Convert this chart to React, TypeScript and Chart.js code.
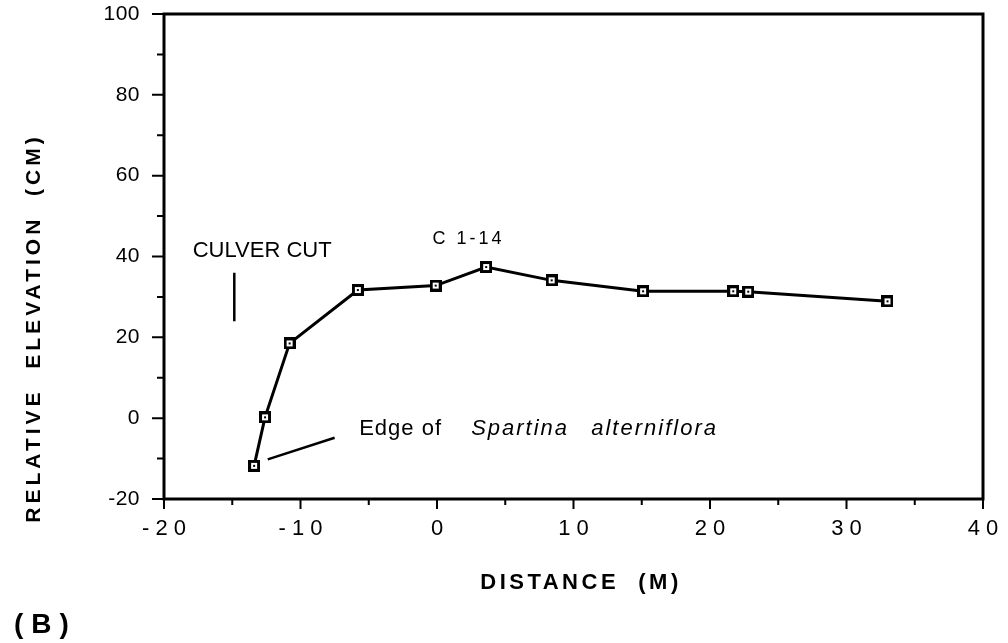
import React, { useEffect, useRef } from 'react';
import { Chart, registerables } from 'chart.js';

Chart.register(...registerables);

// ---- Data ----
const distance = [-13.4, -12.6, -10.8, -5.8, -0.1, 3.6, 8.4, 15.1, 21.7, 22.8, 33.0];
const elevation = [-11.8, 0.2, 18.5, 31.7, 32.8, 37.4, 34.1, 31.4, 31.4, 31.3, 28.9];

const xTickValues = [-20, -10, 0, 10, 20, 30, 40];
const yTickValues = [-20, 0, 20, 40, 60, 80, 100];
const xMinorTicks = [-15, -5, 5, 15, 25, 35];
const yMinorTicks = [-10, 10, 30, 50, 70, 90];

const xTitle = 'DISTANCE  (M)';
const yTitle = 'RELATIVE  ELEVATION  (CM)';
const panelLabel = '(B)';
const culverLabel = 'CULVER CUT';
const coreLabel = 'C 1-14';
const edgeLabel = ['Edge of', 'Spartina', 'alterniflora'];

// annotation anchors in data units
const culverText = { x: -17.9, y: 41.3 };
const culverLine = [{ x: -14.85, y: 36 }, { x: -14.85, y: 24 }];
const coreText = { x: 2.3, y: 44.2 };
const edgeTextX = [-5.7, 2.5, 11.3];
const edgeTextY = -2.6;
const edgeLine = [{ x: -12.4, y: -10.2 }, { x: -7.5, y: -4.85 }];

const FONT = '"Liberation Sans", Arial, Helvetica, sans-serif';

function makeMarker(): HTMLCanvasElement {
  const c = document.createElement('canvas');
  c.width = 12;
  c.height = 12;
  const g = c.getContext('2d')!;
  g.fillStyle = '#000';
  g.fillRect(0, 0, 12, 12);
  g.fillStyle = '#fff';
  g.fillRect(3, 3, 6, 6);
  g.fillStyle = '#000';
  g.fillRect(5, 5, 2, 2);
  return c;
}

function drawText(
  ctx: CanvasRenderingContext2D,
  text: string,
  x: number,
  y: number,
  font: string,
  ls: number,
  align: CanvasTextAlign = 'left'
) {
  ctx.save();
  ctx.font = font;
  (ctx as any).letterSpacing = ls + 'px';
  ctx.textAlign = align;
  ctx.textBaseline = 'middle';
  ctx.fillStyle = '#000';
  ctx.fillText(text, x, y);
  ctx.restore();
}

const framePlugin = {
  id: 'framePlugin',
  beforeDraw(chart: any) {
    const wrap = (scale: any, ls: number) => {
      if (scale._lsWrapped) return;
      const orig = scale.drawLabels;
      scale.drawLabels = function (ca: any) {
        const c = this.ctx;
        c.save();
        c.letterSpacing = ls + 'px';
        orig.call(this, ca);
        c.restore();
      };
      scale._lsWrapped = true;
    };
    wrap(chart.scales.x, 6);
    wrap(chart.scales.y, 0.5);
  },
  beforeDatasetsDraw(chart: any) {
    const { ctx, chartArea: a, scales } = chart;
    const xs = scales.x;
    const ys = scales.y;
    ctx.save();
    ctx.strokeStyle = '#000';
    ctx.lineWidth = 3;
    ctx.strokeRect(a.left, a.top, a.right - a.left, a.bottom - a.top);
    ctx.lineWidth = 2;
    ctx.beginPath();
    for (const v of xTickValues) {
      const px = xs.getPixelForValue(v);
      ctx.moveTo(px, a.bottom);
      ctx.lineTo(px, a.bottom + 10);
    }
    for (const v of xMinorTicks) {
      const px = xs.getPixelForValue(v);
      ctx.moveTo(px, a.bottom);
      ctx.lineTo(px, a.bottom + 6);
    }
    for (const v of yTickValues) {
      const py = ys.getPixelForValue(v);
      ctx.moveTo(a.left, py);
      ctx.lineTo(a.left - 12, py);
    }
    for (const v of yMinorTicks) {
      const py = ys.getPixelForValue(v);
      ctx.moveTo(a.left, py);
      ctx.lineTo(a.left - 7, py);
    }
    ctx.stroke();

    // annotation lines
    ctx.lineWidth = 2.5;
    ctx.beginPath();
    ctx.moveTo(xs.getPixelForValue(culverLine[0].x), ys.getPixelForValue(culverLine[0].y));
    ctx.lineTo(xs.getPixelForValue(culverLine[1].x), ys.getPixelForValue(culverLine[1].y));
    ctx.moveTo(xs.getPixelForValue(edgeLine[0].x), ys.getPixelForValue(edgeLine[0].y));
    ctx.lineTo(xs.getPixelForValue(edgeLine[1].x), ys.getPixelForValue(edgeLine[1].y));
    ctx.stroke();
    ctx.restore();
  },
  afterDraw(chart: any) {
    const { ctx, scales } = chart;
    const xs = scales.x;
    const ys = scales.y;

    drawText(ctx, culverLabel, xs.getPixelForValue(culverText.x), ys.getPixelForValue(culverText.y), `22px ${FONT}`, 0);
    drawText(ctx, coreLabel, xs.getPixelForValue(coreText.x), ys.getPixelForValue(coreText.y), `18px ${FONT}`, 3, 'center');
    const ey = ys.getPixelForValue(edgeTextY);
    drawText(ctx, edgeLabel[0], xs.getPixelForValue(edgeTextX[0]), ey, `22px ${FONT}`, 1);
    drawText(ctx, edgeLabel[1], xs.getPixelForValue(edgeTextX[1]), ey, `italic 22px ${FONT}`, 2);
    drawText(ctx, edgeLabel[2], xs.getPixelForValue(edgeTextX[2]), ey, `italic 22px ${FONT}`, 2);

    // axis titles
    drawText(ctx, xTitle, 581, 583, `bold 22px ${FONT}`, 3.5, 'center');
    ctx.save();
    ctx.translate(34, 328);
    ctx.rotate(-Math.PI / 2);
    drawText(ctx, yTitle, 0, 0, `bold 21px ${FONT}`, 4, 'center');
    ctx.restore();

    drawText(ctx, panelLabel, 14, 625, `bold 28px ${FONT}`, 8);
  },
};

export default function App() {
  const ref = useRef<HTMLCanvasElement | null>(null);

  useEffect(() => {
    if (!ref.current) return;
    const marker = makeMarker();
    const chart = new Chart(ref.current, {
      type: 'scatter',
      data: {
        datasets: [
          {
            data: distance.map((d, i) => ({ x: d, y: elevation[i] })),
            showLine: true,
            borderColor: '#000',
            borderWidth: 3,
            pointStyle: marker as any,
            pointRadius: 6,
            pointHoverRadius: 6,
            backgroundColor: '#fff',
          },
        ],
      },
      options: {
        animation: false,
        responsive: false,
        events: [],
        layout: { padding: { top: 14, right: 25, left: 0, bottom: 0 } },
        plugins: { legend: { display: false }, tooltip: { enabled: false } },
        scales: {
          x: {
            type: 'linear',
            min: -20,
            max: 40,
            afterBuildTicks: (s: any) => {
              s.ticks = xTickValues.map((v) => ({ value: v }));
            },
            afterFit: (s: any) => {
              s.height = 144;
              s.paddingLeft = 0;
              s.paddingRight = 0;
              s.paddingTop = 0;
              s.paddingBottom = 0;
            },
            grid: { display: false, drawTicks: false },
            border: { display: false },
            ticks: {
              color: '#000',
              font: { family: FONT, size: 22 },
              padding: 17,
              labelOffset: 3,
              maxRotation: 0,
              autoSkip: false,
              callback: (v: any) => String(v),
            },
          },
          y: {
            type: 'linear',
            min: -20,
            max: 100,
            afterBuildTicks: (s: any) => {
              s.ticks = yTickValues.map((v) => ({ value: v }));
            },
            afterFit: (s: any) => {
              s.width = 164;
              s.paddingLeft = 0;
              s.paddingRight = 0;
              s.paddingTop = 0;
              s.paddingBottom = 0;
            },
            grid: { display: false, drawTicks: false },
            border: { display: false },
            ticks: {
              color: '#000',
              font: { family: FONT, size: 21 },
              padding: 24,
              autoSkip: false,
              callback: (v: any) => String(v),
            },
          },
        },
      },
      plugins: [framePlugin],
    });
    return () => chart.destroy();
  }, []);

  return (
    <div style={{ position: 'absolute', left: 0, top: 0, width: 1008, height: 643, background: '#fff' }}>
      <canvas ref={ref} width={1008} height={643} style={{ display: 'block' }} />
    </div>
  );
}
